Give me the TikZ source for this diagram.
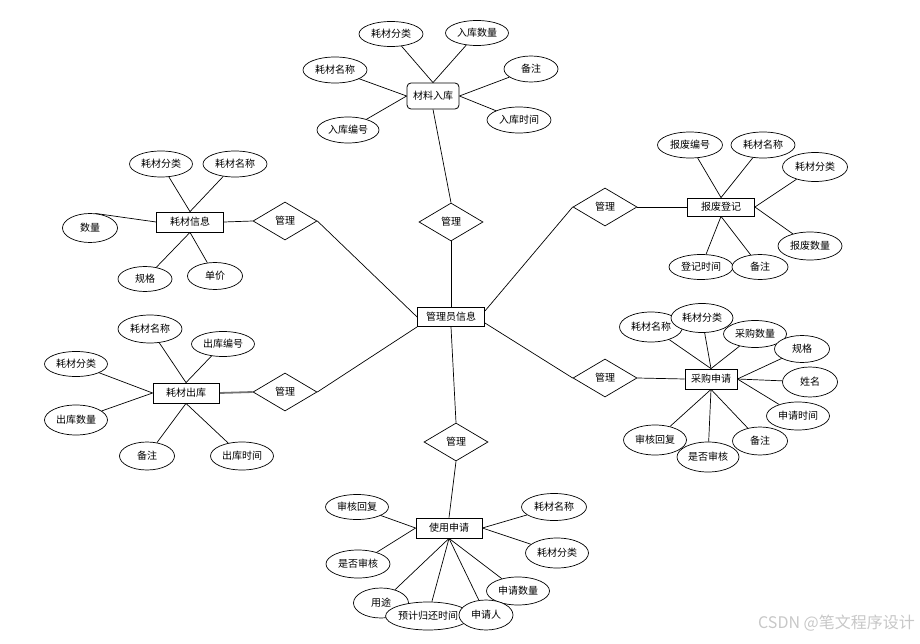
\documentclass[tikz,border=0pt]{standalone}
\usepackage{fontspec}
\setmainfont{Noto Sans CJK SC}
\usetikzlibrary{shapes.geometric,backgrounds}
\begin{document}
\begin{tikzpicture}[x=1pt,y=-1pt,
  every node/.style={font=\fontsize{10}{12}\selectfont},
  attr/.style 2 args={ellipse,draw,fill=white,line width=0.7pt,minimum width=#1pt,minimum height=#2pt,inner sep=0pt},
  ent/.style 2 args={rectangle,draw,fill=white,line width=0.8pt,minimum width=#1pt,minimum height=#2pt,inner sep=0pt},
  rel/.style={diamond,draw,fill=white,line width=0.7pt,minimum width=64pt,minimum height=38pt,inner sep=0pt},
  conn/.style={line width=0.7pt},
  thickconn/.style={line width=1.8pt,draw=black!55}]
\useasboundingbox (0,0) rectangle (920,644);

% central entity
\node[ent={67}{19}] (admin) at (451,317) {管理员信息};

% top cluster
\node[ent={52}{26},rounded corners=4pt] (ruku) at (433,96) {材料入库};
\node[attr={64}{25}] (rk1) at (391,34) {耗材分类};
\node[attr={63}{25}] (rk2) at (477,33) {入库数量};
\node[attr={64}{26}] (rk3) at (335,70) {耗材名称};
\node[attr={54}{26}] (rk4) at (531,69) {备注};
\node[attr={62}{26}] (rk5) at (348,130) {入库编号};
\node[attr={64}{26}] (rk6) at (519,120) {入库时间};
\node[rel] (d0) at (451,222) {管理};

% left top cluster
\node[ent={67}{20}] (info) at (190,222) {耗材信息};
\node[attr={63}{26}] (in1) at (161,164) {耗材分类};
\node[attr={64}{26}] (in2) at (235,164) {耗材名称};
\node[attr={55}{29}] (in3) at (90,228) {数量};
\node[attr={54}{25}] (in4) at (145,279) {规格};
\node[attr={55}{27}] (in5) at (215,276) {单价};
\node[rel] (d1) at (285,221) {管理};

% right top cluster
\node[ent={67}{18}] (scrap) at (721,207) {报废登记};
\node[attr={65}{26}] (sc1) at (690,145) {报废编号};
\node[attr={64}{26}] (sc2) at (763,145) {耗材名称};
\node[attr={65}{29}] (sc3) at (815,167) {耗材分类};
\node[attr={64}{28}] (sc4) at (810,246) {报废数量};
\node[attr={64}{25}] (sc5) at (701,267) {登记时间};
\node[attr={56}{25}] (sc6) at (760,267) {备注};
\node[rel] (d2) at (605,207) {管理};

% left bottom cluster
\node[ent={66}{20}] (out) at (186,393) {耗材出库};
\node[attr={64}{28}] (ou1) at (150,329) {耗材名称};
\node[attr={63}{25}] (ou2) at (223,344) {出库编号};
\node[attr={63}{25}] (ou3) at (76,364) {耗材分类};
\node[attr={63}{30}] (ou4) at (76,420) {出库数量};
\node[attr={55}{28}] (ou5) at (147,456) {备注};
\node[attr={63}{28}] (ou6) at (242,456) {出库时间};
\node[rel] (d3) at (285,392) {管理};

% right bottom cluster
\node[ent={52}{20}] (buy) at (711,379) {采购申请};
\node[attr={63}{30}] (bu1) at (651,327) {耗材名称};
\node[attr={62}{29}] (bu2) at (702,318) {耗材分类};
\node[attr={63}{27}] (bu3) at (755,334) {采购数量};
\node[attr={55}{27}] (bu4) at (802,349) {规格};
\node[attr={55}{30}] (bu5) at (810,382) {姓名};
\node[attr={63}{28}] (bu6) at (798,416) {申请时间};
\node[attr={63}{30}] (bu7) at (655,440) {审核回复};
\node[attr={62}{30}] (bu8) at (708,457) {是否审核};
\node[attr={55}{28}] (bu9) at (760,441) {备注};
\node[rel] (d4) at (605,378) {管理};

% bottom cluster
\node[ent={66}{20}] (use) at (449,528) {使用申请};
\node[attr={63}{25}] (us1) at (357,507) {审核回复};
\node[attr={64}{28}] (us2) at (358,564) {是否审核};
\node[attr={65}{27}] (us3) at (554,507) {耗材名称};
\node[attr={63}{30}] (us4) at (557,553) {耗材分类};
\node[attr={63}{28}] (us5) at (518,591) {申请数量};
\node[attr={55}{30}] (us6) at (381,603) {用途};
\node[attr={80}{28}] (us7) at (428,616) {预计归还时间};
\node[attr={54}{30}] (us8) at (486,615) {申请人};
\node[rel] (d5) at (456,442) {管理};

% watermark
\node[text=black!22,font=\fontsize{16}{18}\selectfont,anchor=east,inner sep=0pt] (wm) at (915,623) {CSDN @笔文程序设计};

\begin{scope}[on background layer]
% relationships to center
\draw[conn] (d0.south) -- (admin.north);
\draw[conn] (d1.east) -- (admin.west);
\draw[conn] (d2.west) -- (admin.10);
\draw[conn] (d3.east) -- (admin.south west);
\draw[conn] (d4.west) -- (admin.-10);
\draw[conn] (admin.south) -- (d5.north);
% entities to relationships
\draw[conn] (ruku.south) -- (d0.north);
\draw[conn] (info.east) -- (d1.west);
\draw[conn] (scrap.west) -- (d2.east);
\draw[thickconn] (out.east) -- (d3.west);
\draw[conn] (buy.west) -- (d4.east);
\draw[conn] (use.north) -- (d5.south);
% top attributes
\draw[conn] (rk1) -- (ruku.north);
\draw[conn] (rk2) -- (ruku.north);
\draw[conn] (rk3) -- (ruku.west);
\draw[conn] (rk5) -- (ruku.west);
\draw[conn] (rk4) -- (ruku.east);
\draw[conn] (rk6) -- (ruku.east);
% info attributes
\draw[conn] (in1) -- (info.north);
\draw[conn] (in2) -- (info.north);
\draw[conn] (in3.70) -- (info.west);
\draw[conn] (in4) -- (info.south);
\draw[conn] (in5) -- (info.south);
% scrap attributes
\draw[conn] (sc1) -- (scrap.north);
\draw[conn] (sc2) -- (scrap.north);
\draw[conn] (sc3) -- (scrap.east);
\draw[conn] (sc4) -- (scrap.east);
\draw[conn] (sc5) -- (scrap.south);
\draw[conn] (sc6) -- (scrap.south);
% out attributes
\draw[conn] (ou1) -- (out.north);
\draw[conn] (ou2) -- (out.north);
\draw[conn] (ou3) -- (out.west);
\draw[conn] (ou4) -- (out.west);
\draw[conn] (ou5) -- (out.south);
\draw[conn] (ou6) -- (out.south);
% buy attributes
\draw[conn] (bu1) -- (buy.north);
\draw[conn] (bu2) -- (buy.north);
\draw[conn] (bu3) -- (buy.north);
\draw[conn] (bu4) -- (buy.east);
\draw[conn] (bu5) -- (buy.east);
\draw[conn] (bu6) -- (buy.east);
\draw[conn] (bu7) -- (buy.south);
\draw[conn] (bu8) -- (buy.south);
\draw[conn] (bu9) -- (buy.south);
% use attributes
\draw[conn] (us1) -- (use.west);
\draw[conn] (us2) -- (use.west);
\draw[conn] (us3) -- (use.east);
\draw[conn] (us4) -- (use.east);
\draw[conn] (us5) -- (use.south);
\draw[conn] (us6) -- (use.south);
\draw[conn] (us7) -- (use.south);
\draw[conn] (us8) -- (use.south);
\end{scope}
\end{tikzpicture}
\end{document}
